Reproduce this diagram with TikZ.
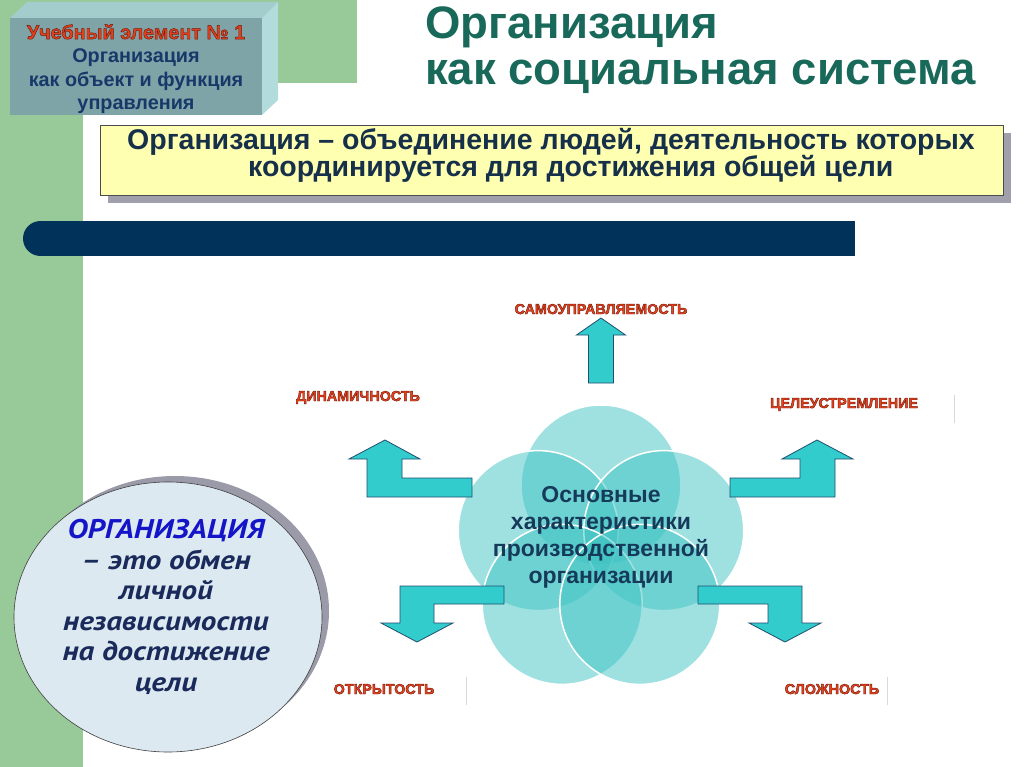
\documentclass[tikz,border=0pt]{standalone}
\usepackage{fontspec}
\setmainfont{Liberation Sans}
\newfontfamily\ptitfont{PT Sans}[FakeStretch=1.15]
\usepackage{xcolor}
\usetikzlibrary{positioning}

\definecolor{slidegreen}{HTML}{98C998}
\definecolor{boxface}{HTML}{7FA4A7}
\definecolor{boxtop}{HTML}{A3CDCD}
\definecolor{boxside}{HTML}{B2DCDC}
\definecolor{unitred}{HTML}{E2401C}
\definecolor{unitblue}{HTML}{17396A}
\definecolor{titleteal}{HTML}{19695A}
\definecolor{defyellow}{HTML}{FFFFB2}
\definecolor{defshadow}{HTML}{A0A0AC}
\definecolor{defnavy}{HTML}{17304A}
\definecolor{barnavy}{HTML}{00325A}
\definecolor{circblue}{HTML}{DDE9F1}
\definecolor{circshadow}{HTML}{9A9AA8}
\definecolor{orgblue}{HTML}{1414C8}
\definecolor{orgnavy}{HTML}{1A2A5A}
\definecolor{petalteal}{HTML}{40C4C4}
\definecolor{arrowteal}{HTML}{33CCCC}
\definecolor{arrowedge}{HTML}{1F4F6F}
\definecolor{labelred}{HTML}{E8431C}
\definecolor{corenavy}{HTML}{153A5A}

% outlined text for the red captions
\newcommand{\outlined}[1]{\special{pdf:literal direct 2 Tr 0.45 w 0.45 0.1 0.05 RG}#1\special{pdf:literal direct 0 Tr}}

\begin{document}
\begin{tikzpicture}[x=1pt, y=-1pt,
    charlabel/.style={font=\fontsize{14.3}{16}\selectfont\bfseries, text=labelred, inner sep=0pt, anchor=base},
    defline/.style={anchor=base west, inner sep=0pt, text=defnavy, font=\fontsize{28.5}{30}\selectfont\bfseries},
    titleline/.style={anchor=base west, inner sep=0pt, text=titleteal, font=\fontsize{45.5}{50}\selectfont\bfseries},
    petal/.style={fill=petalteal, fill opacity=0.5, draw=white, line width=1.5pt},
    blockarrow/.style={fill=arrowteal, draw=arrowedge, line width=0.8pt, line join=miter}]
      % Page and green frame
      \useasboundingbox (0,0) rectangle (1024,767);
      \fill[white] (0,0) rectangle (1024,767);
      \fill[slidegreen] (0,0) rectangle (357,83);
      \fill[slidegreen] (0,0) rectangle (83,767);

      % Learning unit box
      \fill[boxtop] (10,18) -- (27,2) -- (278,2) -- (262,18) -- cycle;
      \fill[boxside] (262,18) -- (278,2) -- (278,100) -- (262,115) -- cycle;
      \fill[boxface] (10,18) rectangle (262,115);
      \node[align=center, inner sep=0pt, text=unitblue, font=\fontsize{19.8}{23.5}\selectfont\bfseries] (unit) at (136,69)
          {{\color{unitred}\outlined{Учебный элемент №~1}}\\Организация\\как объект и функция\\управления};

      % Title
      \node[titleline] (title1) at (425,39) {Организация};
      \node[titleline] (title2) at (425,85) {как социальная система};

      % Definition box
      \fill[defshadow] (108,133) rectangle (1011,203);
      \draw[fill=defyellow, draw=black!70] (100,125) rectangle (1003,195);
      \node[defline] (def1) at (127,150) {Организация – объединение людей, деятельность которых};
      \node[defline] (def2) at (248,177) {координируется для достижения общей цели};

      % Dark bar
      \fill[barnavy] (40.5,221) rectangle (855,256);
      \fill[barnavy] (40.5,238.5) circle[radius=17.5pt];

      % Round definition
      \fill[circshadow] (175,611) ellipse[x radius=154pt, y radius=135pt];
      \draw[fill=circblue, draw=black!75, line width=0.6pt] (168,617) ellipse[x radius=154pt, y radius=135pt];
      \node[align=center, inner sep=0pt, text=orgnavy, font=\ptitfont\fontsize{27}{30.5}\selectfont\bfseries\itshape] (orgdef) at (166,607)
          {{\color{orgblue}ОРГАНИЗАЦИЯ}\\– это обмен\\личной\\независимости\\на достижение\\цели};

      % Five petals
      \foreach \a in {270,198,342,126,54}
          \draw[petal] (601,551) ++(\a:66) circle[radius=80pt];
      \node[align=center, inner sep=0pt, text=corenavy, font=\fontsize{23}{27}\selectfont\bfseries] (core) at (601,537)
          {Основные\\характеристики\\производственной\\организации};

      % Block arrows
      \draw[blockarrow] (588.5,383) -- (588.5,335) -- (576.5,335) -- (601,318) -- (625.5,335) -- (613.5,335) -- (613.5,383) -- cycle;
      \foreach \s in {-1,1} {
          \begin{scope}[shift={(601,0)}, xscale=\s]
              \draw[blockarrow] (129,478) -- (199,478) -- (199,459) -- (181,459) -- (216,440) -- (252,459) -- (234,459) -- (234,497) -- (129,497) -- cycle;
              \draw[blockarrow] (97,586) -- (201,586) -- (201,623) -- (220,623) -- (184,642) -- (148,623) -- (167,623) -- (167,604) -- (97,604) -- cycle;
          \end{scope}
      }

      % Labels
      \node[charlabel] (selfmgmt) at (601,314) {\outlined{САМОУПРАВЛЯЕМОСТЬ}};
      \node[charlabel] (dynamism) at (358,401) {\outlined{ДИНАМИЧНОСТЬ}};
      \node[charlabel] (purpose) at (844,408) {\outlined{ЦЕЛЕУСТРЕМЛЕНИЕ}};
      \node[charlabel] (openness) at (384,694) {\outlined{ОТКРЫТОСТЬ}};
      \node[charlabel] (complexity) at (832,694) {\outlined{СЛОЖНОСТЬ}};

      % Faint marks
      \foreach \x/\y in {466/677, 887/677, 954/395}
          \draw[black!15, line width=0.6pt] (\x,\y) -- (\x,\y+28);
    \end{tikzpicture}
\end{document}
